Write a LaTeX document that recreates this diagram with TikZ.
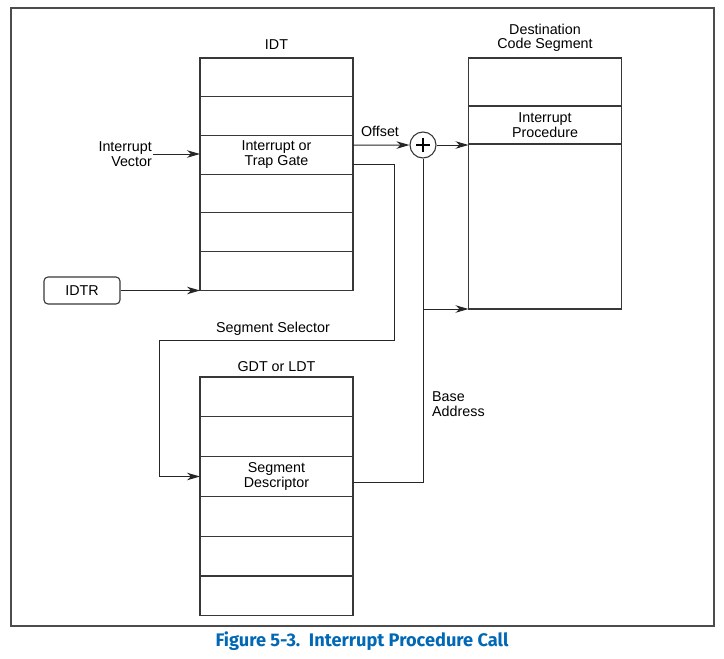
\documentclass[tikz,border=0pt]{standalone}
\usepackage{fontspec}
\setmainfont{Liberation Sans}
\newfontfamily\capfont{Fira Sans}
\usetikzlibrary{arrows.meta}

\definecolor{capblue}{RGB}{0,104,181}

\tikzset{
    ipc line/.style={draw=black!78, line width=1.1pt},
    ipc cell/.style={ipc line, minimum width=153pt, inner sep=0pt,
                     outer sep=0pt, align=center,
                     font=\fontsize{14.3}{14.5}\selectfont},
    idt cell/.style={ipc cell, minimum height=38.7pt},
    gdt cell/.style={ipc cell, minimum height=39.8pt},
    ipc label/.style={inner sep=1pt, align=center,
                      font=\fontsize{14.3}{14.5}\selectfont},
    ipc arrow/.style={-{Stealth[length=13pt, width=7.5pt, inset=4pt]},
                      draw=black!85, line width=1pt},
    ipc wire/.style={draw=black!85, line width=1pt},
    ipc reg/.style={ipc line, rounded corners=4pt, minimum width=76pt,
                    minimum height=27pt, inner sep=0pt,
                    font=\fontsize{14.3}{14.5}\selectfont},
    ipc adder/.style={circle, ipc line, minimum size=26pt, inner sep=0pt},
}

\begin{document}
\begin{tikzpicture}[x=1pt, y=-1pt]
    \useasboundingbox (0,0) rectangle (724,659);
    \draw[draw=black!70, line width=1.3pt] (11,8) rectangle (714,626);

    % IDT
    \def\h{38.7}
    \node[ipc label] (idtlbl) at (276.5,45) {IDT};
    \node[idt cell] (i1) at (276.5, 58+0.5*\h) {};
    \node[idt cell] (i2) at (276.5, 58+1.5*\h) {};
    \node[idt cell] (i3) at (276.5, 58+2.5*\h) {Interrupt or\\Trap Gate};
    \node[idt cell] (i4) at (276.5, 58+3.5*\h) {};
    \node[idt cell] (i5) at (276.5, 58+4.5*\h) {};
    \node[idt cell] (i6) at (276.5, 58+5.5*\h) {};

    % GDT or LDT
    \def\g{39.8}
    \node[ipc label] (gdtlbl) at (276.5,367) {GDT or LDT};
    \node[gdt cell] (g1) at (276.5, 377+0.5*\g) {};
    \node[gdt cell] (g2) at (276.5, 377+1.5*\g) {};
    \node[gdt cell] (g3) at (276.5, 377+2.5*\g) {Segment\\Descriptor};
    \node[gdt cell] (g4) at (276.5, 377+3.5*\g) {};
    \node[gdt cell] (g5) at (276.5, 377+4.5*\g) {};
    \node[gdt cell] (g6) at (276.5, 377+5.5*\g) {};

    % Destination code segment
    \node[ipc label] (dcslbl) at (545,38) {Destination\\Code Segment};
    \node[ipc cell, minimum height=48pt] (d1) at (545,82) {};
    \node[ipc cell, minimum height=38pt] (d2) at (545,125) {Interrupt\\Procedure};
    \node[ipc cell, minimum height=165pt] (d3) at (545,226.5) {};

    % Inputs
    \node[ipc label, anchor=east, align=right] (ivec) at (153,154) {Interrupt\\Vector};
    \node[ipc reg] (idtr) at (82,290.5) {IDTR};
    \node[ipc adder] (plus) at (423,145) {};
    \draw[line width=2pt] ([xshift=-7pt]plus.center) -- ([xshift=7pt]plus.center)
        ([yshift=-7pt]plus.center) -- ([yshift=7pt]plus.center);

    \draw[ipc arrow] (ivec.east) -- (ivec.east -| i3.west);
    \draw[ipc arrow] (idtr.east) -- (idtr.east -| i6.west);

    % Offset path
    \node[ipc label] (offlbl) at (380,131) {Offset};
    \draw[ipc arrow] ([yshift=-9.7pt]i3.north east) -- (plus);
    \draw[ipc arrow] (plus) -- (plus -| d3.west);

    % Segment selector path
    \coordinate (selR) at (394,340);
    \coordinate (selL) at (159,340);
    \node[ipc label] (sellbl) at (273,329) {Segment Selector};
    \draw[ipc arrow] ([yshift=10pt]i3.south east) -| (selR) -- (selL) |- (g3.west);

    % Base address path
    \node[ipc label, anchor=west, align=left] (baselbl) at (431,404) {Base\\Address};
    \draw[ipc wire] ([yshift=-6pt]g3.east) -| (plus.south);
    \coordinate (br) at (plus |- d3.south);
    \draw[ipc arrow] (br) -- (d3.south west);

    % Caption
    \node[text=capblue, font=\capfont\bfseries\fontsize{18.2}{20}\selectfont]
        (cap) at (362,641.5) {Figure 5-3.\ \ Interrupt Procedure Call};
\end{tikzpicture}
\end{document}
